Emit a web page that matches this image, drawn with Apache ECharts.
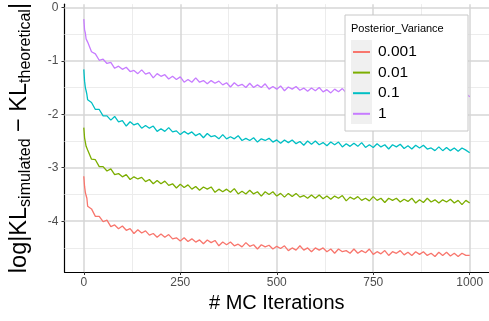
<!DOCTYPE html>
<html>
<head>
<meta charset="utf-8">
<script src="https://cdn.jsdelivr.net/npm/echarts@6/dist/echarts.min.js"></script>
<style>
  html, body { margin: 0; padding: 0; background: #fff; }
  #chart1 { width: 489px; height: 321px; }
</style>
</head>
<body>
<div id="chart1"></div>
<script>
// iterations sampled from the plot
var iters = [0, 2, 4, 6, 8,
  10, 20, 30, 40, 50, 60, 70, 80, 90, 100,
  110, 120, 130, 140, 150, 160, 170, 180, 190, 200,
  210, 220, 230, 240, 250, 260, 270, 280, 290, 300,
  310, 320, 330, 340, 350, 360, 370, 380, 390, 400,
  410, 420, 430, 440, 450, 460, 470, 480, 490, 500,
  510, 520, 530, 540, 550, 560, 570, 580, 590, 600,
  610, 620, 630, 640, 650, 660, 670, 680, 690, 700,
  710, 720, 730, 740, 750, 760, 770, 780, 790, 800,
  810, 820, 830, 840, 850, 860, 870, 880, 890, 900,
  910, 920, 930, 940, 950, 960, 970, 980, 990, 1000];

var v0001 = [-3.16, -3.35, -3.46, -3.52, -3.57,
  -3.72, -3.77, -3.91, -3.91, -4.01, -3.98, -4.10, -4.07, -4.14, -4.09,
  -4.17, -4.14, -4.23, -4.16, -4.22, -4.18, -4.26, -4.23, -4.30, -4.24,
  -4.30, -4.25, -4.33, -4.31, -4.37, -4.31, -4.38, -4.33, -4.39, -4.35,
  -4.42, -4.35, -4.40, -4.36, -4.46, -4.39, -4.44, -4.39, -4.46, -4.43,
  -4.48, -4.40, -4.47, -4.44, -4.52, -4.44, -4.48, -4.45, -4.52, -4.47,
  -4.51, -4.46, -4.55, -4.50, -4.54, -4.46, -4.54, -4.50, -4.57, -4.50,
  -4.54, -4.50, -4.57, -4.52, -4.60, -4.52, -4.57, -4.55, -4.60, -4.52,
  -4.60, -4.55, -4.59, -4.52, -4.62, -4.57, -4.61, -4.55, -4.64, -4.57,
  -4.60, -4.55, -4.63, -4.58, -4.64, -4.57, -4.62, -4.57, -4.64, -4.60,
  -4.66, -4.58, -4.64, -4.58, -4.65, -4.60, -4.66, -4.60, -4.64, -4.64];

var v001 = [-2.25, -2.44, -2.52, -2.60, -2.62,
  -2.67, -2.84, -2.85, -2.98, -2.98, -3.06, -3.02, -3.13, -3.11, -3.17,
  -3.13, -3.22, -3.17, -3.21, -3.18, -3.26, -3.22, -3.30, -3.24, -3.30,
  -3.25, -3.33, -3.30, -3.38, -3.31, -3.37, -3.32, -3.40, -3.35, -3.42,
  -3.36, -3.40, -3.36, -3.46, -3.40, -3.45, -3.40, -3.46, -3.39, -3.49,
  -3.44, -3.49, -3.42, -3.49, -3.45, -3.53, -3.45, -3.50, -3.45, -3.53,
  -3.48, -3.55, -3.48, -3.54, -3.48, -3.55, -3.52, -3.57, -3.51, -3.57,
  -3.51, -3.58, -3.53, -3.59, -3.53, -3.57, -3.52, -3.62, -3.55, -3.59,
  -3.54, -3.61, -3.57, -3.62, -3.54, -3.61, -3.57, -3.65, -3.57, -3.61,
  -3.57, -3.64, -3.59, -3.63, -3.57, -3.66, -3.60, -3.65, -3.57, -3.64,
  -3.60, -3.66, -3.60, -3.64, -3.59, -3.66, -3.61, -3.69, -3.61, -3.66];

var v01 = [-1.16, -1.38, -1.50, -1.56, -1.63,
  -1.73, -1.78, -1.91, -1.91, -2.03, -2.03, -2.11, -2.04, -2.14, -2.12,
  -2.22, -2.14, -2.20, -2.17, -2.26, -2.21, -2.26, -2.22, -2.32, -2.27,
  -2.32, -2.25, -2.33, -2.31, -2.38, -2.32, -2.37, -2.33, -2.40, -2.36,
  -2.44, -2.36, -2.42, -2.40, -2.46, -2.38, -2.46, -2.42, -2.46, -2.40,
  -2.49, -2.45, -2.49, -2.44, -2.52, -2.46, -2.49, -2.45, -2.52, -2.48,
  -2.54, -2.48, -2.53, -2.48, -2.55, -2.51, -2.58, -2.50, -2.56, -2.50,
  -2.57, -2.53, -2.59, -2.52, -2.57, -2.52, -2.61, -2.55, -2.60, -2.54,
  -2.60, -2.53, -2.62, -2.57, -2.62, -2.55, -2.61, -2.57, -2.65, -2.57,
  -2.61, -2.56, -2.64, -2.59, -2.65, -2.58, -2.63, -2.58, -2.65, -2.63,
  -2.68, -2.61, -2.68, -2.62, -2.68, -2.63, -2.69, -2.63, -2.67, -2.72];

var v1 = [-0.22, -0.42, -0.48, -0.59, -0.61,
  -0.65, -0.83, -0.87, -0.99, -0.97, -1.05, -1.03, -1.14, -1.10, -1.16,
  -1.12, -1.20, -1.18, -1.24, -1.17, -1.25, -1.22, -1.32, -1.24, -1.29,
  -1.26, -1.34, -1.29, -1.35, -1.30, -1.40, -1.35, -1.40, -1.32, -1.40,
  -1.37, -1.43, -1.37, -1.42, -1.38, -1.45, -1.41, -1.49, -1.41, -1.47,
  -1.44, -1.50, -1.42, -1.50, -1.45, -1.50, -1.43, -1.53, -1.48, -1.53,
  -1.47, -1.56, -1.49, -1.53, -1.48, -1.55, -1.51, -1.57, -1.51, -1.56,
  -1.50, -1.58, -1.54, -1.60, -1.53, -1.58, -1.52, -1.60, -1.55, -1.61,
  -1.55, -1.59, -1.54, -1.63, -1.57, -1.62, -1.56, -1.61, -1.55, -1.64,
  -1.59, -1.63, -1.57, -1.63, -1.59, -1.66, -1.58, -1.63, -1.58, -1.65,
  -1.60, -1.66, -1.60, -1.65, -1.59, -1.66, -1.62, -1.68, -1.61, -1.67];

var seriesNames = ['0.001', '0.01', '0.1', '1'];
var seriesValues = [v0001, v001, v01, v1];
var colors = ['#F8766D', '#7CAE00', '#00BFC4', '#C77CFF'];

var xTicks = [0, 250, 500, 750, 1000];
var yTicks = [0, -1, -2, -3, -4];
var xMinor = [125, 375, 625, 875];
var yMinor = [-0.5, -1.5, -2.5, -3.5, -4.5];

var chart1 = echarts.init(document.getElementById('chart1'));

function pairs(vals) {
    var out = [];
    for (var i = 0; i < iters.length; i++) {
        out.push([iters[i], vals[i]]);
    }
    return out;
}

// grid lines drawn as mark lines so they sit on the tick values
var gridLines = [];
xMinor.forEach(function (v) { gridLines.push({ xAxis: v, lineStyle: { color: '#ececec', width: 1 } }); });
yMinor.forEach(function (v) { gridLines.push({ yAxis: v, lineStyle: { color: '#ececec', width: 1 } }); });
xTicks.forEach(function (v) { gridLines.push({ xAxis: v, lineStyle: { color: '#d6d6d6', width: 1.5 } }); });
yTicks.forEach(function (v) { gridLines.push({ yAxis: v, lineStyle: { color: '#d6d6d6', width: 1.5 } }); });

var series = [{
    name: 'grid',
    type: 'line',
    data: [],
    z: 1,
    silent: true,
    markLine: {
        z: 1,
        silent: true,
        symbol: ['none', 'none'],
        label: { show: false },
        lineStyle: { type: 'solid' },
        animation: false,
        data: gridLines
    }
}];
for (var k = 0; k < seriesNames.length; k++) {
    series.push({
        name: seriesNames[k],
        type: 'line',
        data: pairs(seriesValues[k]),
        showSymbol: false,
        z: 3,
        lineStyle: { color: colors[k], width: 1.3 },
        itemStyle: { color: colors[k] }
    });
}

var option = {
    animation: false,
    textStyle: { fontFamily: 'Liberation Sans' },
    grid: { left: 62, right: -3, top: 3, bottom: 49 },
    xAxis: {
        type: 'value',
        min: -50,
        max: 1050,
        name: '# MC Iterations',
        nameLocation: 'middle',
        nameGap: 18,
        nameTextStyle: { fontSize: 20, color: '#000', fontFamily: 'Liberation Sans' },
        axisLine: { show: true, onZero: false, lineStyle: { color: '#000', width: 1.2 } },
        axisTick: { show: true, length: 3, customValues: xTicks, lineStyle: { color: '#333' } },
        axisLabel: {
            customValues: xTicks, margin: 5, fontSize: 12, color: '#4d4d4d',
            formatter: function (v) { return String(v); }
        },
        splitLine: { show: false }
    },
    yAxis: {
        type: 'value',
        min: -4.95,
        max: 0.06,
        name: '{n|log|KL}{s|simulated}{n| − KL}{s|theoretical}{n||}',
        nameLocation: 'middle',
        nameRotate: 90,
        nameGap: 31,
        nameTextStyle: {
            color: '#000',
            rich: {
                n: { fontSize: 23.5, lineHeight: 27, verticalAlign: 'middle', fontFamily: 'Liberation Sans', color: '#000' },
                s: { fontSize: 16, lineHeight: 14, verticalAlign: 'bottom', fontFamily: 'Liberation Sans', color: '#000' }
            }
        },
        axisLine: { show: true, onZero: false, lineStyle: { color: '#000', width: 1.2 } },
        axisTick: { show: true, length: 3, customValues: yTicks, lineStyle: { color: '#333' } },
        axisLabel: { customValues: yTicks, margin: 6, fontSize: 12, color: '#4d4d4d' },
        splitLine: { show: false }
    },
    legend: {
        data: seriesNames,
        orient: 'vertical',
        left: 353,
        top: 44,
        padding: 0,
        itemGap: 4.6,
        itemWidth: 17,
        itemHeight: 2,
        icon: 'rect',
        z: 12,
        textStyle: { fontSize: 15.5, lineHeight: 16, color: '#000', padding: [0, 0, 0, 3], fontFamily: 'Liberation Sans' }
    },
    graphic: [
        { type: 'rect', z: 10, shape: { x: 345, y: 15, width: 123, height: 116 },
          style: { fill: '#fff', stroke: '#c8c8c8', lineWidth: 1 } },
        { type: 'rect', z: 11, shape: { x: 351, y: 40, width: 21, height: 84 },
          style: { fill: '#f0f0f0' } },
        { type: 'text', z: 11, x: 351, y: 23,
          style: { text: 'Posterior_Variance', fontSize: 11, fill: '#000', fontFamily: 'Liberation Sans' } }
    ],
    series: series
};
chart1.setOption(option, true);
</script>
</body>
</html>
